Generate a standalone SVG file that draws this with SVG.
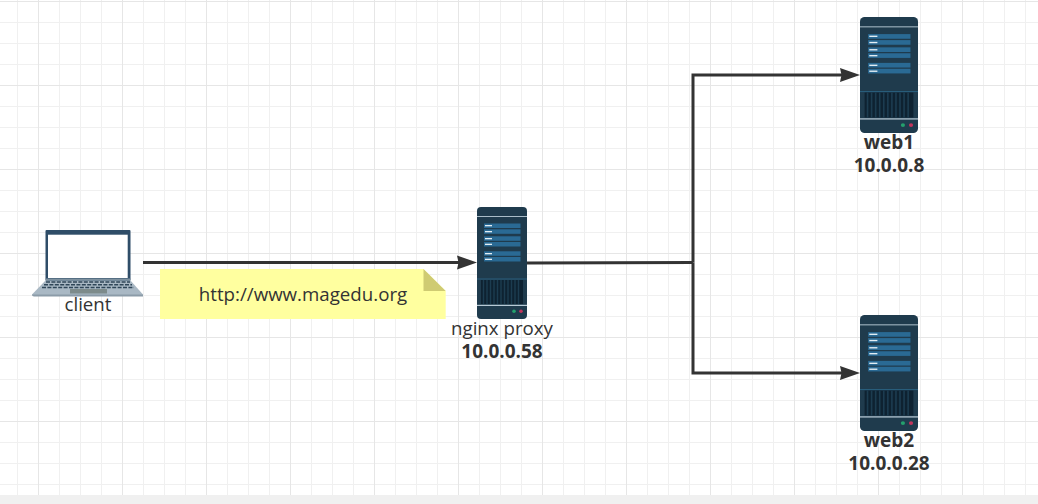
<svg xmlns="http://www.w3.org/2000/svg" width="1038" height="504" viewBox="0 0 1038 504">
  <style>
    text { font-family: "Open Sans", "Noto Sans", "DejaVu Sans", sans-serif; fill: #333; text-anchor: middle; font-size: 18.7px; }
    .b { font-weight: 700; font-size: 19px; }
    .wire { fill: none; stroke: #333; stroke-width: 3; }
    .slat { fill: #2a6a94; }
    .bar { fill: #e4eef4; }
    .key { fill: none; stroke: #2f4658; stroke-width: 1.6; stroke-dasharray: 4 1.4; }
  </style>
  <defs>
    <pattern id="minor" width="21" height="21" patternUnits="userSpaceOnUse" x="17" y="1">
      <path d="M0 0.5H21M0.5 0V21" fill="none" stroke="#f0f0f0" stroke-width="1"/>
    </pattern>
    <pattern id="major" width="84" height="84" patternUnits="userSpaceOnUse" x="38" y="1">
      <path d="M0 0.5H84M0.5 0V84" fill="none" stroke="#e6e6e6" stroke-width="1"/>
    </pattern>
    <marker id="arrow" markerUnits="userSpaceOnUse" markerWidth="21" markerHeight="16" refX="14" refY="8" orient="auto">
      <path d="M0 1L20 8L0 15L1.500 8Z" fill="#333"/>
    </marker>
    <symbol id="server" viewBox="0 0 50 112" preserveAspectRatio="none">
      <rect width="50" height="112" rx="4" fill="#1f3b4d"/>
      <rect y="9" width="50" height="1" fill="#a9bcc8"/>
      <rect class="slat" x="7" y="16.5" width="36.500" height="4.500"/>
      <rect class="slat" x="7" y="22.300" width="36.500" height="4.500"/>
      <rect class="slat" x="7" y="29.300" width="36.500" height="4.500"/>
      <rect class="slat" x="7" y="35" width="36.500" height="4.500"/>
      <rect class="slat" x="7" y="44.300" width="36.500" height="4.500"/>
      <rect class="slat" x="7" y="50" width="36.500" height="4.500"/>
      <rect class="bar" x="8" y="18" width="7" height="1.300"/>
      <rect class="bar" x="8" y="24" width="7" height="1.300"/>
      <rect class="bar" x="8" y="31" width="7" height="1.300"/>
      <rect class="bar" x="8" y="36.700" width="7" height="1.300"/>
      <rect class="bar" x="8" y="46" width="7" height="1.300"/>
      <rect class="bar" x="8" y="51.700" width="7" height="1.300"/>
      <rect y="71.500" width="50" height="1" fill="#2a5f7e"/>
      <rect x="4" y="73" width="42" height="24" fill="#0e2231"/>
      <path d="M6.500 73V97M10 73V97M13.500 73V97M17 73V97M20.500 73V97M24 73V97M27.500 73V97M31 73V97M34.500 73V97M38 73V97M41.500 73V97" stroke="#1c3c50" stroke-width="1.400"/>
      <rect y="97.800" width="50" height="1.200" fill="#b8cad6"/>
      <circle cx="37" cy="104.300" r="1.800" fill="#24a06d"/>
      <circle cx="44" cy="104.300" r="1.800" fill="#c2345c"/>
    </symbol>
  </defs>

  <rect width="1038" height="504" fill="#fff"/>
  <rect width="1038" height="495" fill="url(#minor)"/>
  <rect width="1038" height="495" fill="url(#major)"/>
  <rect y="495" width="1038" height="9" fill="#f0f0f0"/>

  <g id="connectors">
    <path class="wire" d="M143 262.500H471" marker-end="url(#arrow)"/>
    <path class="wire" d="M527 263L693 262.500"/>
    <path class="wire" d="M693 262.500V75H854" marker-end="url(#arrow)"/>
    <path class="wire" d="M693 262.500V373H854" marker-end="url(#arrow)"/>
  </g>

  <g id="client">
    <path d="M46 280L32 294.500Q32 296 34 296H141Q143 296 143 294.500L130 280Z" fill="#a9b8c4"/>
    <path d="M32 294.500H143V296.500H34Q32 296.500 32 294.500Z" fill="#8b9ba8"/>
    <rect x="45.500" y="230" width="85" height="50.500" rx="1" fill="#2f4d68"/>
    <rect x="48" y="234.700" width="79.700" height="43.300" fill="#fff"/>
    <rect x="45.500" y="278.500" width="85" height="2" fill="#7e919f"/>
    <path class="key" d="M46 282H130"/>
    <path class="key" d="M44 284.800H132"/>
    <path class="key" d="M42 287.500H134"/>
    <rect x="70" y="289" width="37" height="4.500" fill="#7d8b8b"/>
    <text x="88" y="311">client</text>
  </g>

  <g id="note">
    <path d="M160 269H423.500L445.700 291V319H160Z" fill="#ffff9f"/>
    <path d="M423.500 269L445.700 291H423.500Z" fill="#cfcb72"/>
    <text x="303" y="301">http://www.magedu.org</text>
  </g>

  <g id="nginx">
    <use href="#server" x="477" y="207" width="50" height="112"/>
    <text x="502" y="335">nginx proxy</text>
    <text class="b" x="502" y="358">10.0.0.58</text>
  </g>

  <g id="web1">
    <use href="#server" x="860" y="17" width="58" height="116"/>
    <text class="b" x="889" y="149">web1</text>
    <text class="b" x="889" y="172">10.0.0.8</text>
  </g>

  <g id="web2">
    <use href="#server" x="860" y="315" width="58" height="116"/>
    <text class="b" x="889" y="447">web2</text>
    <text class="b" x="889" y="470">10.0.0.28</text>
  </g>
</svg>
